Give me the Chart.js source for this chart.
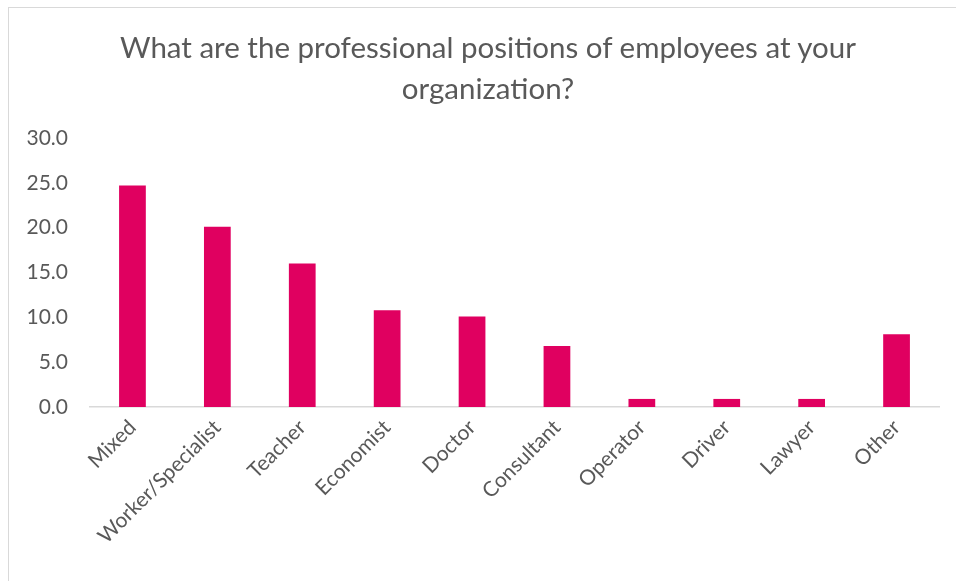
<!DOCTYPE html>
<html>
<head>
<meta charset="utf-8">
<script src="https://cdn.jsdelivr.net/npm/chart.js@4"></script>
<style>
  html, body { margin: 0; padding: 0; background: #fff; overflow: hidden; }
  #wrap { position: relative; width: 956px; height: 581px; }
  #frame { position: absolute; left: 8px; top: 7px; width: 980px; height: 620px; border: 1px solid #d9d9d9; box-sizing: border-box; }
  canvas { position: absolute; left: 0; top: 0; }
  #title {
    position: absolute; left: 88px; width: 800px; top: 26px;
    text-align: center; color: #595959;
    font: 29.5px/41px Lato, "Open Sans", sans-serif;
  }
</style>
</head>
<body>
<div id="wrap">
  <div id="frame"></div>
  <canvas id="positionsChart" width="956" height="581"></canvas>
  <div id="title"></div>
</div>
<script>
// Professional positions of employees (share, %)
const positions = ['Mixed', 'Worker/Specialist', 'Teacher', 'Economist', 'Doctor',
  'Consultant', 'Operator', 'Driver', 'Lawyer', 'Other'];
const shares = [24.7, 20.1, 16.0, 10.8, 10.1, 6.8, 0.9, 0.9, 0.9, 8.1];
const yTicks = [0, 5, 10, 15, 20, 25, 30];
const titleLines = ['What are the professional positions of employees at your', 'organization?'];

const textColor = '#595959';
const fontFamily = 'Lato, "Open Sans", sans-serif';

// title sits above the plot, centred on the full chart frame
document.getElementById('title').innerHTML = titleLines.join('<br>');

const ctx = document.getElementById('positionsChart').getContext('2d');

new Chart(ctx, {
  type: 'bar',
  data: {
    labels: positions,
    datasets: [{
      data: shares,
      backgroundColor: '#e00060',
      borderWidth: 0,
      categoryPercentage: 1,
      barPercentage: 0.315
    }]
  },
  options: {
    responsive: false,
    animation: false,
    layout: { padding: { top: 138, left: 0, right: 17, bottom: 0 } },
    plugins: {
      legend: { display: false },
      tooltip: { enabled: false },
      title: { display: false }
    },
    scales: {
      x: {
        grid: { display: false, drawTicks: false },
        border: { display: true, color: '#d9d9d9', width: 1.5 },
        ticks: {
          color: textColor,
          font: { family: fontFamily, size: 21 },
          minRotation: 45,
          maxRotation: 45,
          autoSkip: false,
          padding: 8
        },
        afterFit(scale) { scale.height = 174; }
      },
      y: {
        min: 0,
        max: 30,
        grid: { display: false, drawTicks: false },
        border: { display: false },
        afterBuildTicks(scale) { scale.ticks = yTicks.map(v => ({ value: v })); },
        ticks: {
          color: textColor,
          font: { family: fontFamily, size: 21 },
          padding: 22,
          callback: v => v.toFixed(1)
        },
        afterFit(scale) { scale.width = 90; }
      }
    }
  }
});
</script>
</body>
</html>
